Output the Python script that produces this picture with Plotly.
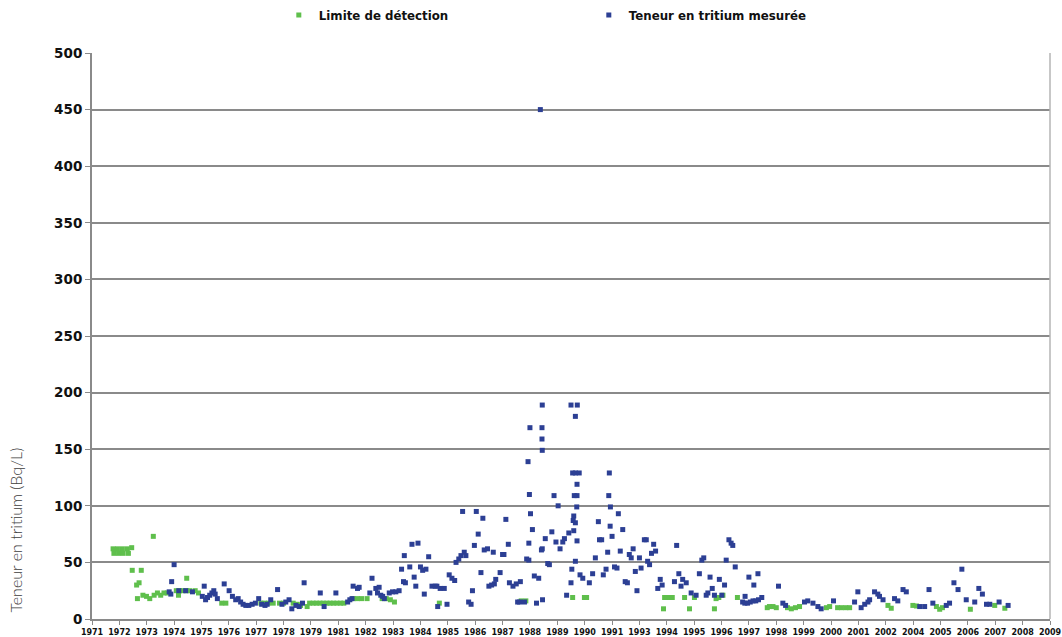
import plotly.graph_objects as go

# Axis labels of the sampling campaigns (category-style time axis)
year_labels = ["1971", "1972", "1973", "1974", "1975", "1976", "1977", "1978", "1979",
               "1981", "1982", "1983", "1984", "1985", "1986", "1987", "1988", "1989",
               "1990", "1991", "1993", "1994", "1995", "1996", "1997", "1998", "1999",
               "2000", "2001", "2002", "2004", "2005", "2006", "2007", "2008", "2009"]

# Detection limit (Bq/L) - position along the time axis and value
det_pos = [0.77, 0.80, 0.93, 0.97, 1.11, 1.14, 1.29, 1.33, 1.45, 1.47, 1.80, 1.63, 1.72,
           1.66, 1.86, 1.99, 2.11, 2.24, 2.27, 2.39, 2.51, 2.63, 2.75, 3.08, 3.16, 3.20,
           3.32, 3.45, 3.46, 3.57, 3.77, 3.89, 4.74, 4.89, 6.17, 6.30, 6.45, 6.62, 6.85,
           7.00, 7.35, 7.50, 7.62, 7.86, 7.95, 8.08, 8.20, 8.33, 8.45, 8.58, 8.70, 8.82,
           8.95, 9.08, 9.20, 9.55, 9.70, 9.85, 10.05, 10.60, 10.75, 10.90, 11.05, 12.69,
           15.68, 15.85, 17.56, 17.99, 18.07, 20.88, 20.92, 21.02, 21.12, 21.20, 21.65,
           21.83, 22.01, 22.74, 22.80, 22.90, 23.05, 23.58, 24.67, 24.75, 24.88, 25.00,
           25.41, 25.55, 25.70, 25.85, 26.83, 26.95, 27.24, 27.38, 27.54, 27.68, 29.08,
           29.20, 29.99, 30.12, 30.85, 30.97, 31.07, 32.09, 32.98, 33.35]
det_val = [62, 58, 62, 58, 62, 58, 62, 58, 63, 43, 43, 30, 32,
           18, 21, 20, 18, 73, 21, 23, 21, 23, 23, 25, 21, 25,
           25, 25, 36, 25, 25, 23, 14, 14, 14, 14, 14, 14, 14,
           14, 14, 13, 12, 11, 14, 14, 14, 14, 14, 14, 14, 14,
           14, 14, 14, 18, 18, 18, 18, 18, 18, 17, 15, 14,
           16, 16, 19, 19, 19, 9, 19, 19, 19, 19, 19,
           9, 19, 9, 18, 19, 21, 19, 10, 11, 11, 10,
           10, 9, 10, 11, 10, 11, 10, 10, 10, 10, 12,
           9.5, 12, 11.5, 11, 8.6, 10, 8.6, 12, 9.5]

# Measured tritium content (Bq/L)
mes_pos = [2.82, 2.88, 2.91, 3.00, 3.17, 3.42, 3.67, 4.03, 4.10, 4.15, 4.22, 4.30, 4.38,
           4.45, 4.50, 4.58, 4.83, 5.01, 5.13, 5.25, 5.34, 5.43, 5.52, 5.62, 5.73, 5.85,
           5.97, 6.09, 6.20, 6.32, 6.40, 6.53, 6.78, 6.94, 7.08, 7.20, 7.30, 7.45, 7.57,
           7.69, 7.75, 8.34, 8.48, 8.91, 9.34, 9.42, 9.50, 9.54, 9.70, 9.76, 10.15, 10.23,
           10.37, 10.43, 10.49, 10.55, 10.62, 10.68, 10.86, 10.98, 11.10, 11.22, 11.31,
           11.38, 11.41, 11.45, 11.61, 11.69, 11.77, 11.83, 11.91, 12.00, 12.08, 12.14,
           12.20, 12.30, 12.42, 12.54, 12.60, 12.63, 12.72, 12.87, 12.97, 13.05, 13.15,
           13.25, 13.30, 13.40, 13.48, 13.54, 13.60, 13.66, 13.76, 13.85, 13.90, 13.97,
           14.04, 14.11, 14.21, 14.28, 14.33, 14.45, 14.50, 14.60, 14.66, 14.70, 14.75,
           14.91, 15.00, 15.05, 15.12, 15.21, 15.25, 15.38, 15.50, 15.55, 15.62, 15.65,
           15.80, 15.88, 15.93, 15.96, 15.96, 15.98, 16.00, 16.02, 16.09, 16.16, 16.24,
           16.32, 16.38, 16.42, 16.44, 16.44, 16.45, 16.45, 16.45, 16.46, 16.56, 16.65,
           16.71, 16.80, 16.88, 16.95, 17.03, 17.10, 17.20, 17.26, 17.34, 17.42, 17.50,
           17.50, 17.53, 17.56, 17.58, 17.60, 17.60, 17.62, 17.66, 17.66, 17.66, 17.66,
           17.71, 17.72, 17.72, 17.72, 17.73, 17.80, 17.83, 17.93, 18.17, 18.29, 18.39,
           18.50, 18.54, 18.62, 18.68, 18.78, 18.84, 18.88, 18.90, 18.93, 18.94, 19.00,
           19.09, 19.18, 19.23, 19.30, 19.39, 19.48, 19.56, 19.63, 19.70, 19.77, 19.85,
           19.91, 20.00, 20.06, 20.18, 20.25, 20.30, 20.37, 20.44, 20.52, 20.59, 20.67,
           20.76, 20.83, 21.28, 21.36, 21.44, 21.52, 21.58, 21.71, 21.89, 22.07, 22.19,
           22.28, 22.35, 22.44, 22.50, 22.58, 22.66, 22.74, 22.92, 23.01, 23.11, 23.17,
           23.27, 23.35, 23.41, 23.50, 23.77, 23.85, 23.86, 23.95, 24.00, 24.05, 24.15,
           24.18, 24.25, 24.33, 24.35, 24.47, 25.08, 25.24, 25.34, 26.03, 26.15, 26.34,
           26.52, 26.64, 27.09, 27.86, 27.98, 28.10, 28.23, 28.35, 28.41, 28.59, 28.71,
           28.77, 28.90, 29.32, 29.44, 29.63, 29.75, 30.24, 30.42, 30.58, 30.72, 31.21,
           31.33, 31.49, 31.64, 31.78, 31.94, 32.25, 32.40, 32.53, 32.68, 32.80, 33.14,
           33.47]
mes_val = [24, 22, 33, 48, 25, 25, 24, 20, 29, 17, 19, 21, 23,
           25, 22, 18, 31, 25, 20, 17, 18, 15, 13, 12, 12, 13,
           14, 18, 13, 12, 13, 17, 26, 13, 15, 17, 9, 12, 11,
           14, 32, 23, 11, 23, 15, 17, 18, 29, 27, 28, 23, 36,
           27, 23, 28, 21, 20, 18, 23, 24, 24, 25, 44,
           33, 56, 32, 46, 66, 37, 29, 67, 46, 43, 22,
           44, 55, 29, 29, 29, 11, 27, 27, 13, 39, 36,
           34, 50, 53, 56, 95, 59, 56, 15, 13, 25, 65,
           95, 75, 41, 89, 61, 62, 29, 30, 59, 31, 35,
           41, 57, 57, 88, 66, 32, 29, 31, 15, 15, 33,
           15, 53, 139, 67, 52, 110, 169, 93, 79, 38, 14,
           36, 450, 61, 169, 159, 189, 149, 62, 17, 71, 49,
           48, 77, 109, 68, 100, 62, 68, 71, 21, 76, 189,
           32, 44, 129, 87, 91, 78, 109, 179, 129, 85, 51,
           99, 119, 109, 69, 189, 129, 39, 36, 32, 40, 54,
           86, 70, 70, 39, 44, 59, 109, 129, 82, 99, 73,
           46, 45, 93, 60, 79, 33, 32, 57, 54, 62, 42,
           25, 54, 45, 70, 70, 51, 48, 58, 66, 60, 27,
           35, 30, 33, 65, 40, 29, 35, 32, 23, 21, 40,
           52, 54, 21, 23, 37, 27, 21, 35, 21, 30, 52,
           70, 67, 65, 46, 15, 14, 20, 14, 37, 15, 16,
           30, 16, 40, 17, 19, 29, 14, 12, 15, 16, 14,
           11, 9, 16, 15, 24, 10, 13, 15, 17, 24, 22,
           20, 17, 18, 16, 26, 24, 11, 11, 26, 14, 12,
           14, 32, 26, 44, 17, 15, 27, 22, 13, 13, 15,
           12]

GREEN = "#5fbf4c"
BLUE = "#2c3f94"
GRID = "#8a8a8a"
BOLD = dict(family="DejaVu Sans", weight="bold", color="#111111")

fig = go.Figure()
fig.add_trace(go.Scatter(
    x=det_pos, y=det_val, mode="markers", name="Limite de détection",
    marker=dict(symbol="square", size=5, color=GREEN, line=dict(width=0)),
))
fig.add_trace(go.Scatter(
    x=mes_pos, y=mes_val, mode="markers", name="Teneur en tritium mesurée",
    marker=dict(symbol="square", size=5, color=BLUE, line=dict(width=0)),
))

fig.update_layout(
    width=1062, height=637,
    margin=dict(l=92, r=12, t=53, b=18, autoexpand=False),
    paper_bgcolor="white", plot_bgcolor="white",
    showlegend=True,
    legend=dict(
        orientation="h", x=0.195, xanchor="left", y=1.067, yanchor="middle",
        font=dict(size=11.8, **BOLD), entrywidth=265, entrywidthmode="pixels",
        bgcolor="rgba(0,0,0,0)",
    ),
    xaxis=dict(
        range=[0, 35], tickmode="array", tickvals=list(range(len(year_labels))),
        ticktext=year_labels, showgrid=False, zeroline=False, automargin=False,
        ticks="outside", ticklen=4, tickcolor=GRID, tickwidth=1,
        showline=True, linecolor=GRID, linewidth=2,
        tickfont=dict(size=8, **BOLD),
    ),
    yaxis=dict(
        range=[0, 500], dtick=50, showgrid=True, gridcolor=GRID, gridwidth=1.5,
        zeroline=False, automargin=False, ticks="outside", ticklen=5,
        tickcolor=GRID, tickwidth=1,
        showline=True, linecolor=GRID, linewidth=2,
        tickfont=dict(size=13.5, **BOLD),
    ),
    annotations=[dict(
        text="Teneur en tritium (Bq/L)", xref="paper", yref="paper",
        x=-0.08, y=0.157, xanchor="center", yanchor="middle",
        textangle=-90, showarrow=False,
        font=dict(family="Lato", weight=300, size=16, color="#3d3d3d"),
    )],
    shapes=[dict(
        type="line", xref="paper", yref="paper", x0=1, x1=1, y0=0, y1=1,
        line=dict(color="#b5b5b5", width=1.5),
    )],
)

fig.write_html("out.html")
